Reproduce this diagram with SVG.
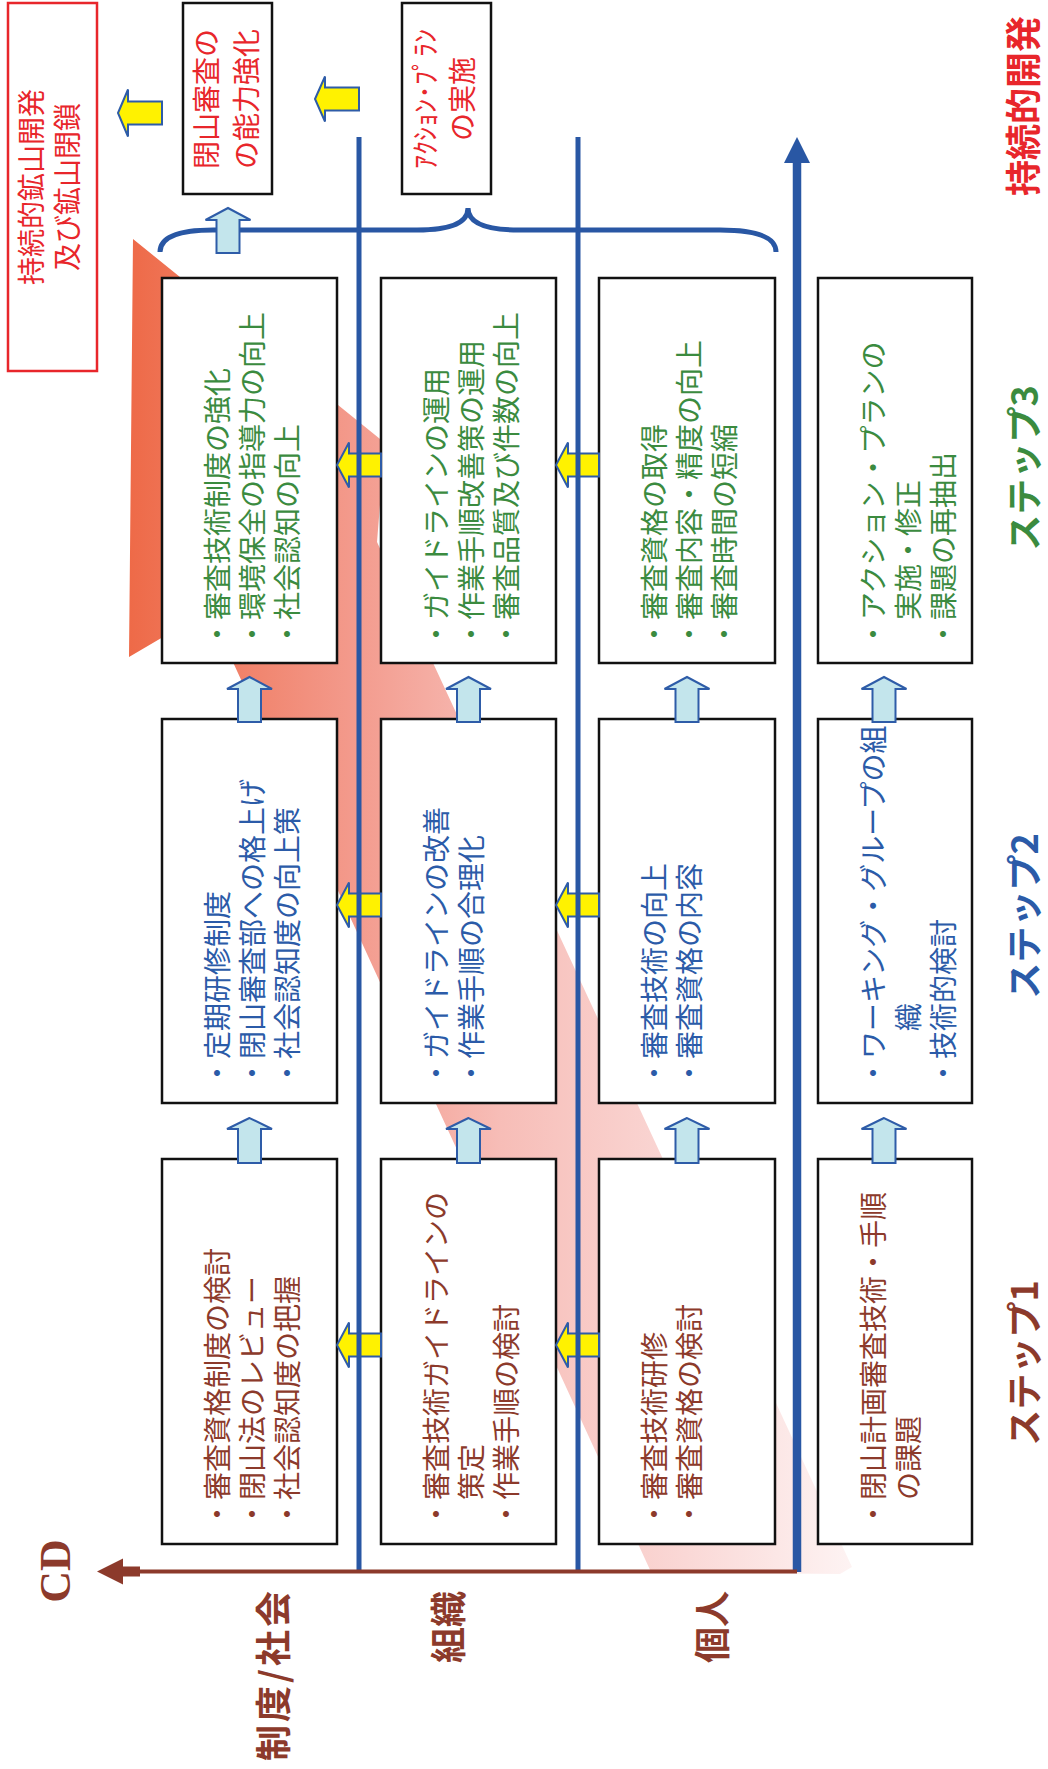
<svg xmlns="http://www.w3.org/2000/svg" width="1048" height="1769" viewBox="0 0 1048 1769">
<defs>
<linearGradient id="pinkGrad" gradientUnits="userSpaceOnUse" x1="0" y1="130" x2="0" y2="870">
<stop offset="0" stop-color="#EE6A48"/>
<stop offset="0.3" stop-color="#F39A8C"/>
<stop offset="0.5" stop-color="#F7BDB7"/>
<stop offset="0.75" stop-color="#FAD8D6"/>
<stop offset="1" stop-color="#FEF6F6"/>
</linearGradient>
<style>
.box{fill:#fff;stroke:#111;stroke-width:2.5}
.rbox{fill:#fff;stroke:#E8262B;stroke-width:2.5}
.t{font-family:'Noto Sans CJK JP',sans-serif;font-size:28px}
.g{fill:#3B8B3F}
.b{fill:#2B5BA8}
.r{fill:#8C3A2B}
.red{fill:#E8262B}
.yel{fill:#FFF200;stroke:#2E5CA8;stroke-width:2}
.lb{fill:#C3E5EC;stroke:#2E5CA8;stroke-width:2}
.bl{stroke:#2957A4;stroke-width:5;fill:none}
.lbl{font-family:'Noto Sans CJK JP',sans-serif;font-weight:700}
</style>
</defs>
<g transform="translate(0,1769) rotate(-90)">
<polygon id="band" points="1530,133 1326,385 1227,377 202,852 195,840 197,651 1159,209 1112,129" fill="url(#pinkGrad)"/>

<g id="nodes">
<g id="box-s3-a"><rect class="box" x="1106" y="162" width="385" height="175"/>
<text class="t g" x="1121" y="228">・審査技術制度の強化</text>
<text class="t g" x="1121" y="263">・環境保全の指導力の向上</text>
<text class="t g" x="1121" y="298">・社会認知の向上</text></g>
<g id="box-s3-b"><rect class="box" x="1106" y="381" width="385" height="175"/>
<text class="t g" x="1121" y="447">・ガイドラインの運用</text>
<text class="t g" x="1121" y="482">・作業手順改善策の運用</text>
<text class="t g" x="1121" y="517">・審査品質及び件数の向上</text></g>
<g id="box-s3-c"><rect class="box" x="1106" y="599" width="385" height="176"/>
<text class="t g" x="1121" y="665">・審査資格の取得</text>
<text class="t g" x="1121" y="700">・審査内容・精度の向上</text>
<text class="t g" x="1121" y="735">・審査時間の短縮</text></g>
<g id="box-s3-d"><rect class="box" x="1106" y="818" width="385" height="154"/>
<text class="t g" x="1121" y="884">・アクション・プランの</text>
<text class="t g" x="1121" y="919">　実施・修正</text>
<text class="t g" x="1121" y="954">・課題の再抽出</text></g>

<g id="box-s2-a"><rect class="box" x="666" y="162" width="384" height="175"/>
<text class="t b" x="682" y="228">・定期研修制度</text>
<text class="t b" x="682" y="263">・閉山審査部への格上げ</text>
<text class="t b" x="682" y="298">・社会認知度の向上策</text></g>
<g id="box-s2-b"><rect class="box" x="666" y="381" width="384" height="175"/>
<text class="t b" x="682" y="447">・ガイドラインの改善</text>
<text class="t b" x="682" y="482">・作業手順の合理化</text></g>
<g id="box-s2-c"><rect class="box" x="666" y="599" width="384" height="176"/>
<text class="t b" x="682" y="665">・審査技術の向上</text>
<text class="t b" x="682" y="700">・審査資格の内容</text></g>
<g id="box-s2-d"><rect class="box" x="666" y="818" width="384" height="154"/>
<text class="t b" x="682" y="884">・ワーキング・グループの組</text>
<text class="t b" x="682" y="919">　　織</text>
<text class="t b" x="682" y="954">・技術的検討</text></g>

<g id="box-s1-a"><rect class="box" x="225" y="162" width="385" height="175"/>
<text class="t r" x="241" y="228">・審査資格制度の検討</text>
<text class="t r" x="241" y="263">・閉山法のレビュー</text>
<text class="t r" x="241" y="298">・社会認知度の把握</text></g>
<g id="box-s1-b"><rect class="box" x="225" y="381" width="385" height="175"/>
<text class="t r" x="241" y="447">・審査技術ガイドラインの</text>
<text class="t r" x="241" y="482">　策定</text>
<text class="t r" x="241" y="517">・作業手順の検討</text></g>
<g id="box-s1-c"><rect class="box" x="225" y="599" width="385" height="176"/>
<text class="t r" x="241" y="665">・審査技術研修</text>
<text class="t r" x="241" y="700">・審査資格の検討</text></g>
<g id="box-s1-d"><rect class="box" x="225" y="818" width="385" height="154"/>
<text class="t r" x="241" y="884">・閉山計画審査技術・手順</text>
<text class="t r" x="241" y="919">　の課題</text></g>

<g id="goal-box"><rect class="rbox" x="1398" y="8" width="368" height="89"/>
<text class="t red" x="1582" y="42" text-anchor="middle">持続的鉱山開発</text>
<text class="t red" x="1582" y="78" text-anchor="middle">及び鉱山閉鎖</text></g>
<g id="closure-box"><rect class="box" x="1575" y="183" width="191" height="89"/>
<text class="t red" x="1670" y="217" text-anchor="middle">閉山審査の</text>
<text class="t red" x="1670" y="257" text-anchor="middle">の能力強化</text></g>
<g id="action-box"><rect class="box" x="1575" y="402" width="191" height="89"/>
<text class="t red" x="1670" y="436" text-anchor="middle">ｱｸｼｮﾝ･ﾌﾟﾗﾝ</text>
<text class="t red" x="1670" y="473" text-anchor="middle">の実施</text></g>

<g id="labels">
<text x="198" y="70" text-anchor="middle" font-family="'Liberation Serif',serif" font-weight="700" font-size="44" fill="#8C3A2B">CD</text>
<text class="lbl r" x="178" y="287" font-size="36" text-anchor="end" textLength="170" lengthAdjust="spacing">制度/社会</text>
<text class="lbl r" x="178" y="462" font-size="36" text-anchor="end">組織</text>
<text class="lbl r" x="178" y="726" font-size="36" text-anchor="end">個人</text>
<text class="lbl r" x="406" y="1038" font-size="36" text-anchor="middle">ステップ1</text>
<text class="lbl b" x="853" y="1038" font-size="36" text-anchor="middle">ステップ2</text>
<text class="lbl g" x="1301" y="1038" font-size="36" text-anchor="middle">ステップ3</text>
<text class="lbl red" x="1663" y="1037" font-size="36" text-anchor="middle">持続的開発</text>
</g>
</g>

<g id="connectors">
<path class="yel" d="M1656,118 L1679.5,128 L1667.5,128 L1667.5,162 L1644.5,162 L1644.5,128 L1632.5,128 Z"/>
<path class="yel" d="M1670,315 L1692.5,325 L1681.5,325 L1681.5,359 L1658.5,359 L1658.5,325 L1647.5,325 Z"/>
<path class="yel" d="M1304,337 L1326.5,349 L1315.5,349 L1315.5,381 L1292.5,381 L1292.5,349 L1281.5,349 Z"/>
<path class="yel" d="M864,337 L886.5,349 L875.5,349 L875.5,381 L852.5,381 L852.5,349 L841.5,349 Z"/>
<path class="yel" d="M424,337 L446.5,349 L435.5,349 L435.5,381 L412.5,381 L412.5,349 L401.5,349 Z"/>
<path class="yel" d="M1304,556 L1326.5,568 L1315.5,568 L1315.5,599 L1292.5,599 L1292.5,568 L1281.5,568 Z"/>
<path class="yel" d="M864,556 L886.5,568 L875.5,568 L875.5,599 L852.5,599 L852.5,568 L841.5,568 Z"/>
<path class="yel" d="M424,556 L446.5,568 L435.5,568 L435.5,599 L412.5,599 L412.5,568 L401.5,568 Z"/>
<line class="bl" x1="197" y1="359" x2="1632" y2="359"/>
<line class="bl" x1="197" y1="578" x2="1632" y2="578"/>
<line x1="197" y1="797" x2="1608" y2="797" stroke="#2957A4" stroke-width="8.5"/>
<polygon points="1632,797 1606,784 1606,810" fill="#2957A4"/>
<line x1="197.5" y1="797" x2="197.5" y2="130" stroke="#8C3A2B" stroke-width="4"/>
<rect x="192.5" y="122" width="10" height="18" fill="#8C3A2B"/>
<polygon points="197.5,97 184.5,123 210.5,123" fill="#8C3A2B"/>
<path class="bl" d="M1517,160 Q1539,160 1539,213 L1539,417 Q1539,468 1561,468 Q1539,468 1539,519 L1539,720 Q1539,776 1517,776"/>
<path class="lb" d="M651,249.5 L640,227 L640,238 L606,238 L606,261 L640,261 L640,272 Z"/>
<path class="lb" d="M651,468.5 L640,446 L640,457 L606,457 L606,480 L640,480 L640,491 Z"/>
<path class="lb" d="M651,687 L640,664.5 L640,675.5 L606,675.5 L606,698.5 L640,698.5 L640,709.5 Z"/>
<path class="lb" d="M651,884 L640,861.5 L640,872.5 L606,872.5 L606,895.5 L640,895.5 L640,906.5 Z"/>
<path class="lb" d="M1092,249.5 L1080,227 L1080,238 L1047,238 L1047,261 L1080,261 L1080,272 Z"/>
<path class="lb" d="M1092,468.5 L1080,446 L1080,457 L1047,457 L1047,480 L1080,480 L1080,491 Z"/>
<path class="lb" d="M1092,687 L1080,664.5 L1080,675.5 L1047,675.5 L1047,698.5 L1080,698.5 L1080,709.5 Z"/>
<path class="lb" d="M1092,884 L1080,861.5 L1080,872.5 L1047,872.5 L1047,895.5 L1080,895.5 L1080,906.5 Z"/>
<path class="lb" d="M1561,228 L1549,205.5 L1549,216.5 L1516,216.5 L1516,239.5 L1549,239.5 L1549,250.5 Z"/>
</g>
</g>
</svg>
